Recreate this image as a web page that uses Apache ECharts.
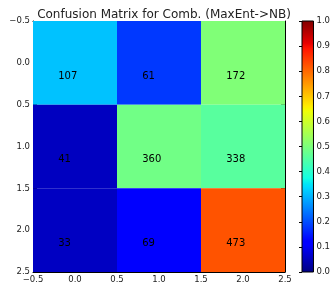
<!DOCTYPE html>
<html>
<head>
<meta charset="utf-8">
<script src="https://cdn.jsdelivr.net/npm/echarts@6/dist/echarts.min.js"></script>
<style>
  html, body { margin: 0; padding: 0; background: #fff; }
  #main { width: 333px; height: 285px; }
</style>
</head>
<body>
<div id="main"></div>
<script>
var chartDom = document.getElementById('main');
var myChart = echarts.init(chartDom);
var option;

// true class (rows) / predicted class (columns)
const rowIdx = [0, 1, 2];
const colIdx = [0, 1, 2];
const counts = [
    [107, 61, 172],
    [41, 360, 338],
    [33, 69, 473]
];
const titleText = 'Confusion Matrix for Comb. (MaxEnt->NB)';

// matplotlib 'jet' colormap
function seg(pts, t) {
    for (let i = 1; i < pts.length; i++) {
        if (t <= pts[i][0]) {
            const a = pts[i - 1], b = pts[i];
            return a[1] + (b[1] - a[1]) * (t - a[0]) / (b[0] - a[0]);
        }
    }
    return pts[pts.length - 1][1];
}
const jetR = [[0, 0], [0.35, 0], [0.66, 1], [0.89, 1], [1, 0.5]];
const jetG = [[0, 0], [0.125, 0], [0.375, 1], [0.64, 1], [0.91, 0], [1, 0]];
const jetB = [[0, 0.5], [0.11, 1], [0.34, 1], [0.65, 0], [1, 0]];
function jet(t) {
    t = Math.max(0, Math.min(1, t));
    const r = Math.round(seg(jetR, t) * 255);
    const g = Math.round(seg(jetG, t) * 255);
    const b = Math.round(seg(jetB, t) * 255);
    return 'rgb(' + r + ',' + g + ',' + b + ')';
}

// cells: [col, row, count, row-normalised]
const cells = [];
rowIdx.forEach(function (i) {
    const sum = counts[i].reduce((a, b) => a + b, 0);
    colIdx.forEach(function (j) {
        cells.push([j, i, counts[i][j], counts[i][j] / sum]);
    });
});

const font = 'DejaVu Sans';
const tickFmt = function (v) { return v.toFixed(1).replace('-', '\u2212'); };
const labelStyle = { fontFamily: font, fontSize: 8.5, color: '#222' };
const lineStyle = { color: '#000', width: 1 };

const jetStops = [0, 0.11, 0.125, 0.34, 0.35, 0.375, 0.64, 0.65, 0.66, 0.89, 0.91, 1]
    .map(function (t) { return { offset: t, color: jet(t) }; });

function matAxis(pos, showLabel, extra) {
    return Object.assign({
        type: 'value', position: pos, min: -0.5, max: 2.5, interval: 0.5,
        gridIndex: 0,
        axisLine: { show: true, onZero: false, lineStyle: lineStyle },
        axisTick: { show: true, inside: true, length: 4, lineStyle: lineStyle },
        axisLabel: Object.assign({ show: showLabel, formatter: tickFmt, margin: 3 }, labelStyle),
        splitLine: { show: false }
    }, extra || {});
}

option = {
    animation: false,
    title: {
        text: titleText,
        left: 159,
        top: 4,
        textAlign: 'center',
        textStyle: { fontFamily: font, fontSize: 12, fontWeight: 'normal', color: '#222' }
    },
    grid: [
        { left: 33, top: 21, width: 252, height: 251 },
        { left: 302, top: 21, width: 13, height: 251 }
    ],
    xAxis: [
        matAxis('bottom', true),
        matAxis('top', false),
        { type: 'value', gridIndex: 1, min: 0, max: 1, show: false }
    ],
    yAxis: [
        matAxis('left', true, { inverse: true }),
        matAxis('right', false, { inverse: true }),
        {
            type: 'value', gridIndex: 1, position: 'right', min: 0, max: 1, interval: 0.1,
            axisLine: { show: false },
            axisTick: { show: true, inside: true, length: 3, lineStyle: lineStyle },
            axisLabel: Object.assign({ formatter: tickFmt, margin: 3 }, labelStyle),
            splitLine: { show: false }
        }
    ],
    series: [
        {
            type: 'custom',
            xAxisIndex: 0,
            yAxisIndex: 0,
            z: 1,
            data: cells,
            renderItem: function (params, api) {
                const x = api.value(0), y = api.value(1);
                const p0 = api.coord([x - 0.5, y - 0.5]);
                const p1 = api.coord([x + 0.5, y + 0.5]);
                const pt = api.coord([x - 0.2, y + 0.2]);
                return {
                    type: 'group',
                    children: [
                        {
                            type: 'rect',
                            shape: {
                                x: Math.min(p0[0], p1[0]), y: Math.min(p0[1], p1[1]),
                                width: Math.abs(p1[0] - p0[0]), height: Math.abs(p1[1] - p0[1])
                            },
                            style: { fill: jet(api.value(3)) }
                        },
                        {
                            type: 'text',
                            z2: 10,
                            style: {
                                x: pt[0], y: pt[1] - 3.5,
                                text: String(api.value(2)),
                                align: 'left', verticalAlign: 'middle',
                                fontFamily: font, fontSize: 10, fill: '#000'
                            }
                        }
                    ]
                };
            }
        },
        {
            type: 'custom',
            xAxisIndex: 2,
            yAxisIndex: 2,
            data: [[0, 1]],
            renderItem: function (params, api) {
                const p0 = api.coord([0, 0]);
                const p1 = api.coord([1, 1]);
                return {
                    type: 'rect',
                    shape: { x: p0[0], y: p1[1], width: p1[0] - p0[0], height: p0[1] - p1[1] },
                    style: {
                        fill: new echarts.graphic.LinearGradient(0, 1, 0, 0, jetStops),
                        stroke: '#000', lineWidth: 1
                    }
                };
            }
        }
    ]
};

myChart.setOption(option);
</script>
</body>
</html>
